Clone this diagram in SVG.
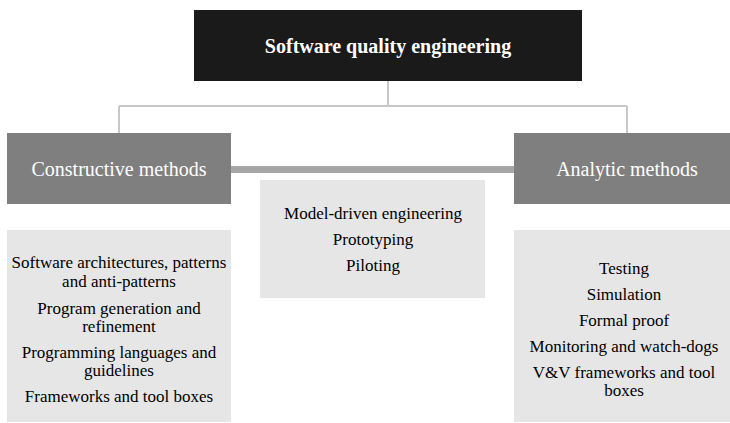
<svg xmlns="http://www.w3.org/2000/svg" width="730" height="423" viewBox="0 0 730 423">
<style>
.t{font-family:"Liberation Serif","Times New Roman",serif;text-anchor:middle}
.item{font-size:17px;fill:#000}
.head{font-size:20px;fill:#fff}
.conn{stroke:#c8c8c8;stroke-width:2;fill:none}
</style>
<rect width="730" height="423" fill="#fff"/>
<g id="connectors">
<path class="conn" d="M388 81V106M119 106H627M119 106V133M627 106V133"/>
<rect x="231" y="166" width="283" height="7" fill="#a6a6a6"/>
</g>
<g id="root">
<rect x="194" y="10" width="388" height="71" fill="#1a1a1a"/>
<text class="t" x="388" y="53" font-size="20" font-weight="bold" fill="#fff">Software quality engineering</text>
</g>
<g id="constructive">
<rect x="7" y="133" width="224" height="71" fill="#7f7f7f"/>
<text class="t head" x="119" y="176">Constructive methods</text>
</g>
<g id="analytic">
<rect x="514" y="133" width="216" height="71" fill="#7f7f7f"/>
<text class="t head" x="627" y="176">Analytic methods</text>
</g>
<g id="middle">
<rect x="260" y="180" width="225" height="118" fill="#e6e6e6"/>
<text class="t item" x="373" y="219">Model-driven engineering</text>
<text class="t item" x="373" y="245">Prototyping</text>
<text class="t item" x="373" y="271">Piloting</text>
</g>
<g id="constructive-list">
<rect x="7" y="230" width="224" height="192" fill="#e6e6e6"/>
<text class="t item" x="119" y="268">Software architectures, patterns</text>
<text class="t item" x="119" y="287">and anti-patterns</text>
<text class="t item" x="119" y="314">Program generation and</text>
<text class="t item" x="119" y="332">refinement</text>
<text class="t item" x="119" y="358">Programming languages and</text>
<text class="t item" x="119" y="376">guidelines</text>
<text class="t item" x="119" y="402">Frameworks and tool boxes</text>
</g>
<g id="analytic-list">
<rect x="514" y="230" width="216" height="192" fill="#e6e6e6"/>
<text class="t item" x="624" y="274">Testing</text>
<text class="t item" x="624" y="300">Simulation</text>
<text class="t item" x="624" y="326">Formal proof</text>
<text class="t item" x="624" y="352">Monitoring and watch-dogs</text>
<text class="t item" x="624" y="378">V&amp;V frameworks and tool</text>
<text class="t item" x="624" y="396">boxes</text>
</g>
</svg>
